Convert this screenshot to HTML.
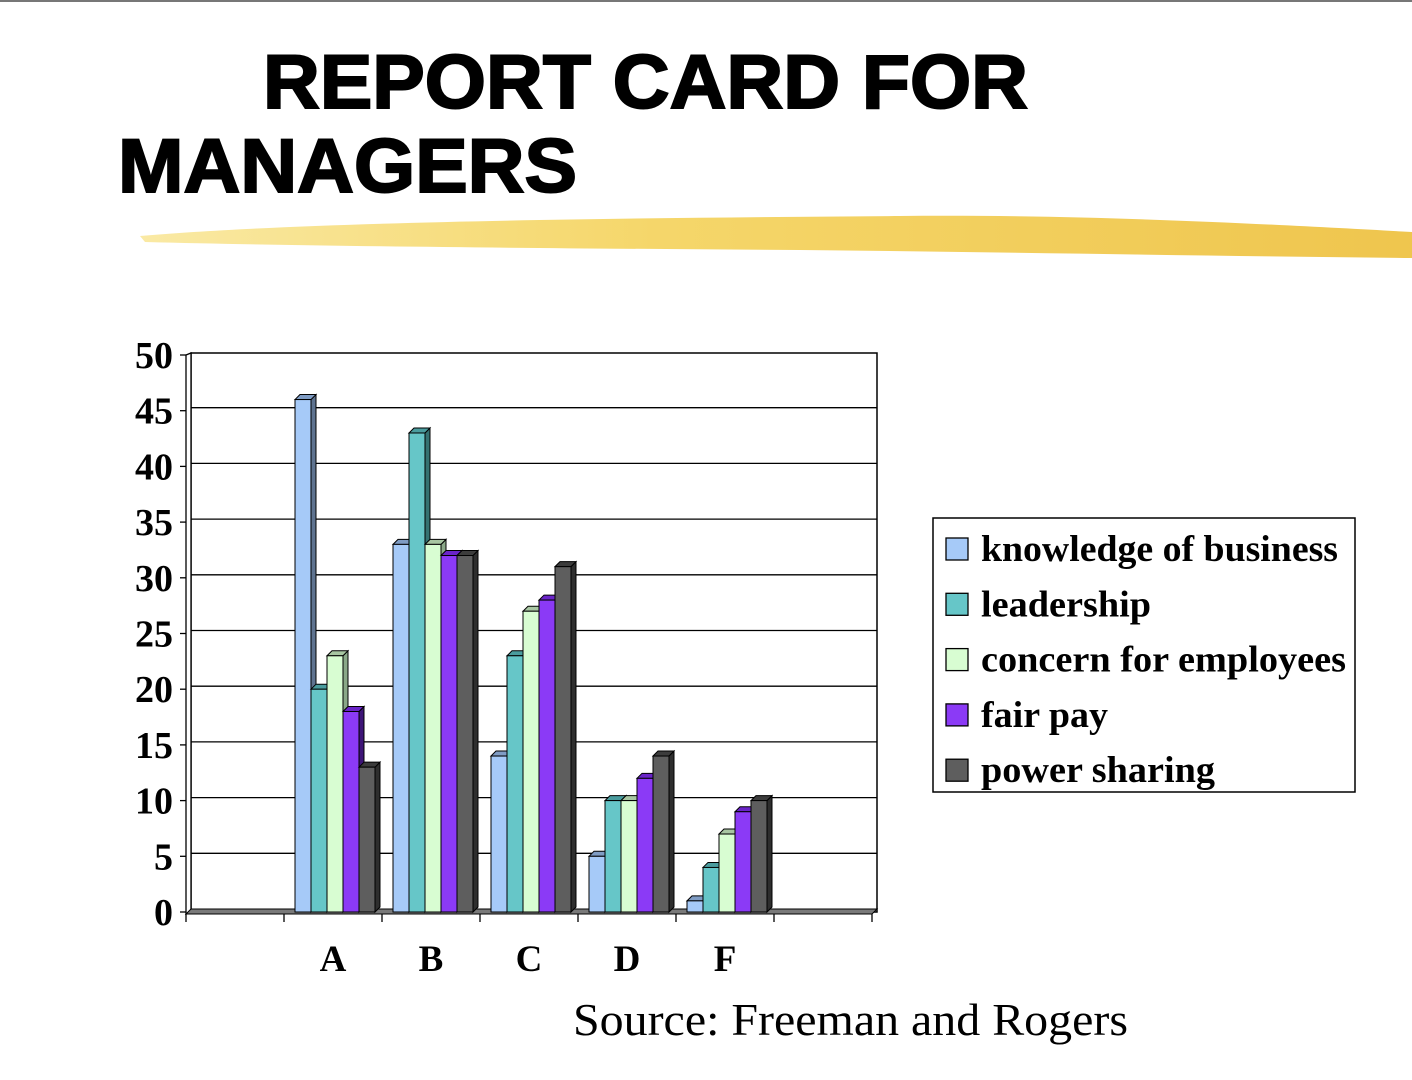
<!DOCTYPE html>
<html><head><meta charset="utf-8"><style>
html,body{margin:0;padding:0;background:#fff;}
svg{display:block;}
</style></head><body>
<svg id="chart" width="1412" height="1080" viewBox="0 0 1412 1080" xmlns="http://www.w3.org/2000/svg">
<defs>
<linearGradient id="brush" x1="0" x2="1" y1="0" y2="0">
<stop offset="0" stop-color="#f9e79a"/><stop offset="0.4" stop-color="#f4d25a"/><stop offset="1" stop-color="#edbf3a"/>
</linearGradient>
</defs>
<rect x="0" y="0" width="1412" height="2" fill="#777"/>
<text x="263" y="108" font-family="Liberation Sans, sans-serif" font-weight="bold" font-size="76" stroke="#000" stroke-width="2" textLength="765" lengthAdjust="spacingAndGlyphs">REPORT CARD FOR</text>
<text x="118" y="192" font-family="Liberation Sans, sans-serif" font-weight="bold" font-size="76" stroke="#000" stroke-width="2" textLength="459" lengthAdjust="spacingAndGlyphs">MANAGERS</text>
<path d="M140 236 C300 222 600 218 900 216 C1100 214 1300 226 1412 232 L1412 258 C1200 256 1000 252 800 250 C500 248 300 246 145 242 Z" fill="url(#brush)" opacity="0.9"/>
<g id="plot"></g>
<text x="573" y="1035" font-family="Liberation Serif, serif" font-size="45" textLength="555" lengthAdjust="spacingAndGlyphs">Source: Freeman and Rogers</text>
</svg>
<script>
const categories = ["", "A", "B", "C", "D", "F", ""];
const seriesNames = ["knowledge of business", "leadership", "concern for employees", "fair pay", "power sharing"];
const knowledge = [null, 46, 33, 14, 5, 1, null];
const leadership = [null, 20, 43, 23, 10, 4, null];
const concern = [null, 23, 33, 27, 10, 7, null];
const fairPay = [null, 18, 32, 28, 12, 9, null];
const powerSharing = [null, 13, 32, 31, 14, 10, null];
const yTicks = [0, 5, 10, 15, 20, 25, 30, 35, 40, 45, 50];

const series = [knowledge, leadership, concern, fairPay, powerSharing];
const fills = ["#a6caf8", "#66c6c8", "#d8fdd2", "#8b3af6", "#5e5e5e"];
const sides = ["#5e7390", "#357272", "#8aa888", "#3e1577", "#2e2e2e"];
const tops = ["#7f9cc4", "#4a9c9e", "#a8c6a2", "#6a24c8", "#3c3c3c"];

const NS = "http://www.w3.org/2000/svg";
const g = document.getElementById("plot");
const X0 = 186, X1 = 872, Y0 = 912, Y50 = 355;
const catW = (X1 - X0) / categories.length;
const y = v => Y0 - (v / 50) * (Y0 - Y50);
const xCat = i => X0 + i * catW;
function el(tag, attrs, text) {
  const e = document.createElementNS(NS, tag);
  for (const k in attrs) e.setAttribute(k, attrs[k]);
  if (text !== undefined) e.textContent = text;
  g.appendChild(e);
  return e;
}
let e = el("rect", {x: 191, y: 353, width: 686, height: 559, fill: "#fff", stroke: "#000", "stroke-width": 1.5});


yTicks.forEach(t => {
  if (t > 0 && t < 50) {
    const l = el("line", {x1: 191, x2: 877, y1: y(t) - 3, y2: y(t) - 3, stroke: "#000", "stroke-width": 1.3});
    
    
  }
  const tk = el("line", {x1: 180, x2: 186, y1: y(t), y2: y(t), stroke: "#000", "stroke-width": 1.3});
  
  
  const lb = el("text", {x: 173, y: y(t) + 13, "text-anchor": "end", "font-family": "Liberation Serif, serif", "font-weight": "bold", "font-size": 38}, String(t));
  
  
});
e = el("path", {d: `M186 ${Y50} L191 353 L191 912 L186 ${Y0 + 2} Z`, fill: "#fff", stroke: "#000", "stroke-width": 1.3});


e = el("path", {d: `M186 914 L191 909 L877 909 L872 914 Z`, fill: "#7a7a7a", stroke: "#000", "stroke-width": 1});


for (let i = 0; i <= categories.length; i++) {
  const t = el("line", {x1: xCat(i), x2: xCat(i), y1: 914, y2: 922, stroke: "#000", "stroke-width": 1.3});
  
  
}
categories.forEach((c, i) => {
  if (!c) return;
  const t = el("text", {x: xCat(i) + catW / 2, y: 971, "text-anchor": "middle", "font-family": "Liberation Serif, serif", "font-weight": "bold", "font-size": 37}, c);
  
  
});
const bw = 16, dp = 5;
categories.forEach((c, i) => {
  series.forEach((s, k) => {
    const v = s[i];
    if (v === null || v === undefined) return;
    const x = xCat(i) + 11 + k * bw, yt = y(v);
    const side = el("path", {d: `M${x + bw} ${yt} L${x + bw + dp} ${yt - dp} L${x + bw + dp} ${Y0 - dp} L${x + bw} ${Y0} Z`, fill: sides[k], stroke: "#000", "stroke-width": 1});
    
    
    const top = el("path", {d: `M${x} ${yt} L${x + dp} ${yt - dp} L${x + bw + dp} ${yt - dp} L${x + bw} ${yt} Z`, fill: tops[k], stroke: "#000", "stroke-width": 1});
    
    
    const r = el("rect", {x: x, y: yt, width: bw, height: Y0 - yt, fill: fills[k], stroke: "#000", "stroke-width": 1});
    
    
  });
});
e = el("rect", {x: 933, y: 518, width: 422, height: 274, fill: "#fff", stroke: "#000", "stroke-width": 1.5});


const legendLens = [357, 170, 365, 127, 234];
seriesNames.forEach((n, k) => {
  const cy = 550 + k * 55.3;
  const sw = el("rect", {x: 946, y: cy - 12, width: 22, height: 22, fill: fills[k], stroke: "#000", "stroke-width": 1.3});
  
  
  const t = el("text", {x: 981, y: cy + 11, "font-family": "Liberation Serif, serif", "font-weight": "bold", "font-size": 37, textLength: legendLens[k], lengthAdjust: "spacingAndGlyphs"}, n);
  
  
});
</script>
</body></html>
